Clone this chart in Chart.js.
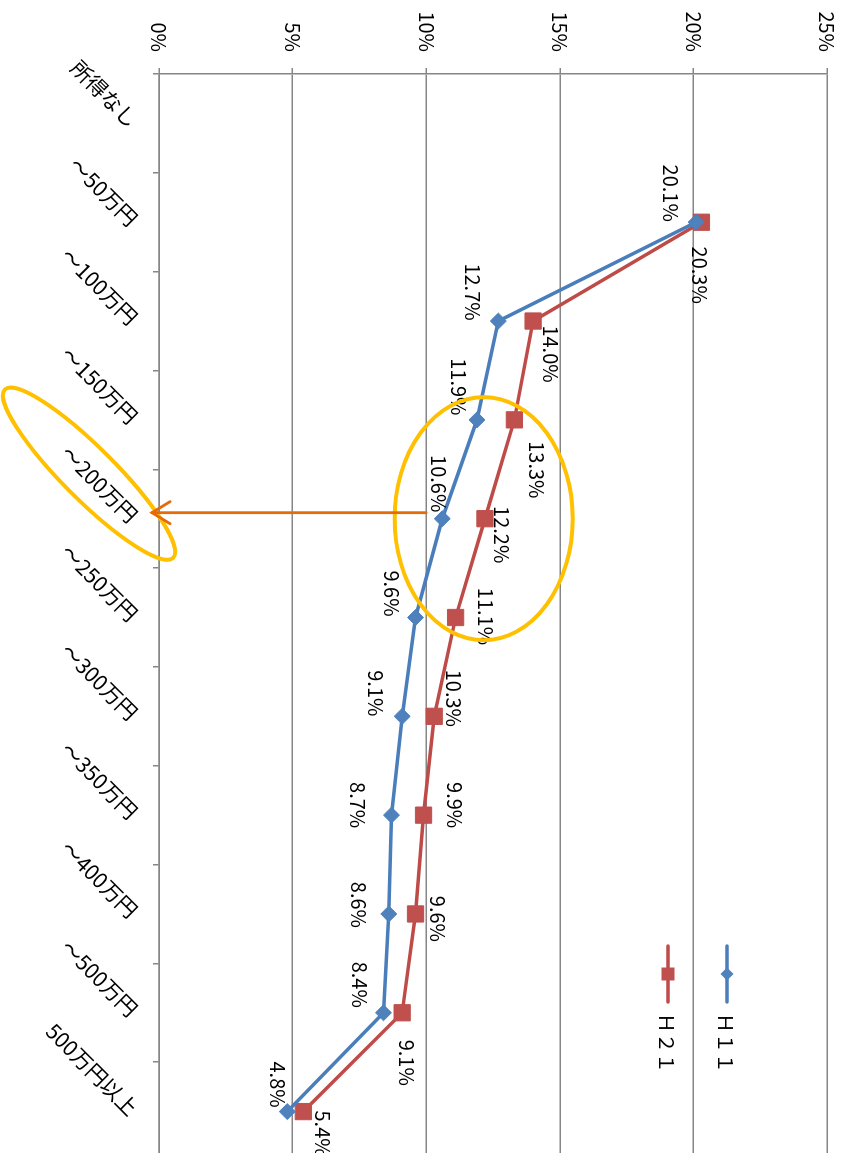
<!DOCTYPE html>
<html><head><meta charset="utf-8">
<script src="https://cdn.jsdelivr.net/npm/chart.js@4"></script>
<style>
html,body{margin:0;padding:0;width:847px;height:1153px;overflow:hidden;background:#fff;}
#wrap{position:absolute;left:0;top:0;width:1180px;height:855px;transform-origin:0 0;transform:translateX(855px) rotate(90deg);}
</style></head><body>
<div id="wrap"><canvas id="c" width="1180" height="855"></canvas></div>
<script>
// ---- data ----
const categories = ['所得なし','～50万円','～100万円','～150万円','～200万円','～250万円','～300万円','～350万円','～400万円','～500万円','500万円以上'];
const seriesNames = ['Ｈ１１','Ｈ２１'];
const h11 = [null,20.1,12.7,11.9,10.6,9.6,9.1,8.7,8.6,8.4,4.8];
const h21 = [null,20.3,14.0,13.3,12.2,11.1,10.3,9.9,9.6,9.1,5.4];
const valueTicks = [0,5,10,15,20,25];

// ---- label placement (offset of label centre from its point, px) ----
const labelShiftH11 = [null,[-29,25],[-29,26],[-33,18],[-35,4],[-24,24],[-23,27],[-10,34],[-9,30],[-28,24],[-27,10]];
const labelShiftH21 = [null,[53,2],[33,-18],[50,-22],[16,-17],[-1,-30],[-18,-19],[-10,-31],[5,-22],[50,-4],[22,-19]];

const FONT = "'Noto Sans CJK JP','Noto Sans',sans-serif";
const BLUE = '#4A7EBB', RED = '#BE4B48', GRID = '#868686', GOLD = '#FFC000', ORANGE = '#E36C09';

const extras = {
  id: 'extras',
  afterDraw(chart) {
    const ctx = chart.ctx, xs = chart.scales.x, ys = chart.scales.y, ca = chart.chartArea;
    // data labels
    ctx.save();
    ctx.font = '20px ' + FONT;
    ctx.fillStyle = '#000';
    ctx.textAlign = 'center';
    ctx.textBaseline = 'middle';
    [[h11, labelShiftH11], [h21, labelShiftH21]].forEach(([vals, shifts], di) => {
      const meta = chart.getDatasetMeta(di);
      vals.forEach((v, j) => {
        if (v == null) return;
        const p = meta.data[j];
        ctx.fillText(v.toFixed(1) + '%', p.x + shifts[j][0], p.y + shifts[j][1]);
      });
    });
    ctx.restore();

    // annotations
    const cx = xs.getPixelForValue(4);
    const catW = xs.getPixelForValue(1) - xs.getPixelForValue(0);
    const pctPx = ys.getPixelForValue(0) - ys.getPixelForValue(1);
    ctx.save();
    ctx.strokeStyle = GOLD; ctx.lineWidth = 4;
    ctx.beginPath();
    ctx.ellipse(cx, ys.getPixelForValue(12.15), catW * 1.23, pctPx * 3.33, 0, 0, Math.PI * 2);
    ctx.stroke();
    ctx.beginPath();
    ctx.ellipse(cx - 45, ca.bottom + 70, 119, 26, -Math.PI / 4, 0, Math.PI * 2);
    ctx.stroke();
    // arrow
    const ax = cx - 6, ay0 = ys.getPixelForValue(10), ay1 = ca.bottom + 7;
    ctx.strokeStyle = ORANGE; ctx.lineWidth = 2.8; ctx.lineCap = 'round';
    ctx.beginPath(); ctx.moveTo(ax, ay0); ctx.lineTo(ax, ay1); ctx.stroke();
    ctx.beginPath(); ctx.moveTo(ax - 11, ay1 - 18); ctx.lineTo(ax, ay1); ctx.lineTo(ax + 11, ay1 - 18); ctx.stroke();
    ctx.restore();

    // legend
    ctx.save();
    chart.data.datasets.forEach((ds, i) => {
      const y = ca.top + 100 + i * 59;
      const x0 = ca.right - 215, x1 = ca.right - 159, xm = (x0 + x1) / 2;
      ctx.strokeStyle = ds.borderColor; ctx.lineWidth = 3.5; ctx.lineCap = 'round';
      ctx.beginPath(); ctx.moveTo(x0, y); ctx.lineTo(x1, y); ctx.stroke();
      ctx.fillStyle = ds.pointBackgroundColor;
      ctx.beginPath();
      if (ds.pointStyle === 'rectRot') {
        const r = 6.5;
        ctx.moveTo(xm - r, y); ctx.lineTo(xm, y - r); ctx.lineTo(xm + r, y); ctx.lineTo(xm, y + r); ctx.closePath();
      } else {
        ctx.rect(xm - 6.5, y - 6.5, 13, 13);
      }
      ctx.fill();
      ctx.fillStyle = '#000';
      ctx.font = '20px ' + FONT;
      ctx.textAlign = 'left'; ctx.textBaseline = 'middle';
      ctx.fillText(ds.label, ca.right - 148, y + 1);
    });
    ctx.restore();
  }
};

new Chart(document.getElementById('c'), {
  type: 'line',
  data: {
    labels: categories,
    datasets: [
      { label: seriesNames[0], data: h11, borderColor: BLUE, backgroundColor: BLUE, pointBackgroundColor: '#4F81BD', pointBorderColor: '#4F81BD',
        borderWidth: 3.5, pointStyle: 'rectRot', pointRadius: 8, pointBorderWidth: 1, tension: 0 },
      { label: seriesNames[1], data: h21, borderColor: RED, backgroundColor: RED, pointBackgroundColor: '#C0504D', pointBorderColor: '#C0504D',
        borderWidth: 3.5, pointStyle: 'rect', pointRadius: 11.5, pointBorderWidth: 1, tension: 0 }
    ]
  },
  options: {
    responsive: false, animation: false, devicePixelRatio: 1,
    layout: { autoPadding: false, padding: { top: 0, right: 19, left: 0, bottom: 0 } },
    plugins: { legend: { display: false }, tooltip: { enabled: false } },
    scales: {
      x: {
        type: 'category', offset: true,
        grid: { offset: true, drawOnChartArea: false, drawTicks: true, tickLength: 6, color: GRID, lineWidth: 1.5 },
        border: { color: GRID, width: 1.5 },
        ticks: { autoSkip: false, minRotation: 45, maxRotation: 45, padding: 10, color: '#000', font: { family: FONT, size: 21 } },
        afterFit(s) { s.height = 159; }
      },
      y: {
        min: 0, max: 25,
        afterBuildTicks(s) { s.ticks = valueTicks.map(v => ({ value: v })); },
        ticks: { callback: v => v + '%', padding: 16, color: '#000', font: { family: FONT, size: 20 } },
        grid: { color: GRID, lineWidth: 1.5, tickLength: 6 },
        border: { color: GRID, width: 1.5 },
        afterFit(s) { s.width = 74; }
      }
    }
  },
  plugins: [extras]
});
</script>
</body></html>
